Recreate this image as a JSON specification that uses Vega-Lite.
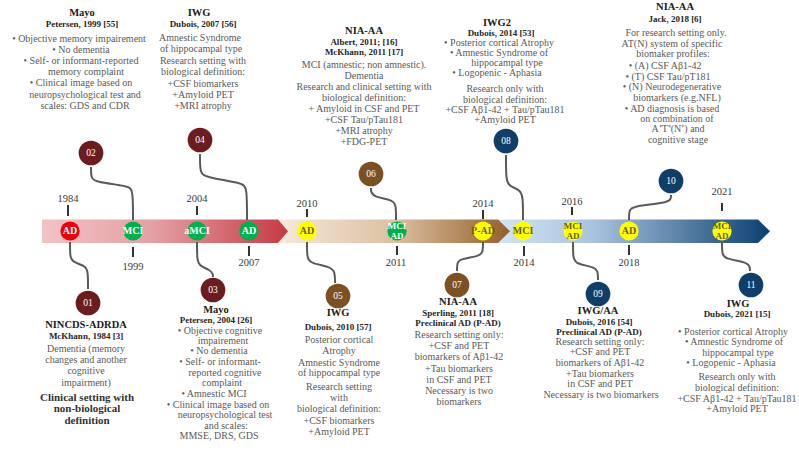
{
  "$schema": "https://vega.github.io/schema/vega-lite/v6.json",
  "width": 799,
  "height": 453,
  "padding": 0,
  "autosize": {"type": "fit", "contains": "padding"},
  "background": "white",
  "config": {"view": {"stroke": null}, "text": {"font": "Liberation Serif"}},
  "resolve": {"scale": {"color": "independent"}},
  "datasets": {
    "band": [
      {"seg": "s1", "x": 42, "y": 219.5, "y2": 243},
      {"seg": "s1", "x": 278, "y": 219.5, "y2": 243},
      {"seg": "s1", "x": 288, "y": 231.25, "y2": 231.25},
      {"seg": "s2", "x": 278, "y": 219.5, "y2": 243},
      {"seg": "s2", "x": 498, "y": 219.5, "y2": 243},
      {"seg": "s2", "x": 510, "y": 231.25, "y2": 231.25},
      {"seg": "s3", "x": 498, "y": 219.5, "y2": 243},
      {"seg": "s3", "x": 758, "y": 219.5, "y2": 243},
      {"seg": "s3", "x": 770, "y": 231.25, "y2": 231.25}
    ],
    "conn": [
      {"id": "c01", "o": 1, "x": 70, "y": 242}, {"id": "c01", "o": 2, "x": 70, "y": 256}, {"id": "c01", "o": 3, "x": 72, "y": 262}, {"id": "c01", "o": 4, "x": 86, "y": 266}, {"id": "c01", "o": 5, "x": 88, "y": 272}, {"id": "c01", "o": 6, "x": 88, "y": 289},
      {"id": "c02", "o": 1, "x": 91, "y": 167}, {"id": "c02", "o": 2, "x": 91, "y": 178}, {"id": "c02", "o": 3, "x": 95, "y": 182}, {"id": "c02", "o": 4, "x": 129, "y": 186}, {"id": "c02", "o": 5, "x": 133, "y": 190}, {"id": "c02", "o": 6, "x": 133, "y": 220},
      {"id": "c03", "o": 1, "x": 197, "y": 242}, {"id": "c03", "o": 2, "x": 197, "y": 261}, {"id": "c03", "o": 3, "x": 200, "y": 266}, {"id": "c03", "o": 4, "x": 210, "y": 270}, {"id": "c03", "o": 5, "x": 213, "y": 274}, {"id": "c03", "o": 6, "x": 213, "y": 277},
      {"id": "c04", "o": 1, "x": 200, "y": 154}, {"id": "c04", "o": 2, "x": 200, "y": 172}, {"id": "c04", "o": 3, "x": 204, "y": 177}, {"id": "c04", "o": 4, "x": 243, "y": 183}, {"id": "c04", "o": 5, "x": 247, "y": 188}, {"id": "c04", "o": 6, "x": 247, "y": 220},
      {"id": "c05", "o": 1, "x": 307, "y": 242}, {"id": "c05", "o": 2, "x": 307, "y": 258}, {"id": "c05", "o": 3, "x": 310, "y": 263}, {"id": "c05", "o": 4, "x": 331, "y": 267}, {"id": "c05", "o": 5, "x": 335, "y": 272}, {"id": "c05", "o": 6, "x": 335, "y": 283},
      {"id": "c06", "o": 1, "x": 371, "y": 188}, {"id": "c06", "o": 2, "x": 371, "y": 192}, {"id": "c06", "o": 3, "x": 374, "y": 197}, {"id": "c06", "o": 4, "x": 393, "y": 200}, {"id": "c06", "o": 5, "x": 396, "y": 205}, {"id": "c06", "o": 6, "x": 396, "y": 220},
      {"id": "c07", "o": 1, "x": 483, "y": 242}, {"id": "c07", "o": 2, "x": 483, "y": 252}, {"id": "c07", "o": 3, "x": 480, "y": 256}, {"id": "c07", "o": 4, "x": 460, "y": 259}, {"id": "c07", "o": 5, "x": 457, "y": 263}, {"id": "c07", "o": 6, "x": 457, "y": 271},
      {"id": "c08", "o": 1, "x": 506, "y": 155}, {"id": "c08", "o": 2, "x": 506, "y": 180}, {"id": "c08", "o": 3, "x": 509, "y": 186}, {"id": "c08", "o": 4, "x": 520, "y": 190}, {"id": "c08", "o": 5, "x": 523, "y": 196}, {"id": "c08", "o": 6, "x": 523, "y": 220},
      {"id": "c09", "o": 1, "x": 573, "y": 242}, {"id": "c09", "o": 2, "x": 573, "y": 258}, {"id": "c09", "o": 3, "x": 576, "y": 264}, {"id": "c09", "o": 4, "x": 595, "y": 267}, {"id": "c09", "o": 5, "x": 598, "y": 272}, {"id": "c09", "o": 6, "x": 598, "y": 280},
      {"id": "c10", "o": 1, "x": 671, "y": 195}, {"id": "c10", "o": 2, "x": 671, "y": 199}, {"id": "c10", "o": 3, "x": 667, "y": 203}, {"id": "c10", "o": 4, "x": 633, "y": 206}, {"id": "c10", "o": 5, "x": 629, "y": 210}, {"id": "c10", "o": 6, "x": 629, "y": 220},
      {"id": "c11", "o": 1, "x": 722, "y": 242}, {"id": "c11", "o": 2, "x": 722, "y": 254}, {"id": "c11", "o": 3, "x": 725, "y": 259}, {"id": "c11", "o": 4, "x": 747, "y": 262}, {"id": "c11", "o": 5, "x": 750, "y": 267}, {"id": "c11", "o": 6, "x": 750, "y": 271}
    ],
    "ticks": [
      {"x": 68, "y": 205, "y2": 216}, {"x": 197, "y": 206, "y2": 215}, {"x": 307, "y": 209, "y2": 217},
      {"x": 483, "y": 210, "y2": 219}, {"x": 572, "y": 207, "y2": 215}, {"x": 722, "y": 203, "y2": 211},
      {"x": 133, "y": 247, "y2": 257}, {"x": 249, "y": 246, "y2": 256}, {"x": 397, "y": 246, "y2": 255},
      {"x": 524, "y": 246, "y2": 256}, {"x": 629, "y": 245, "y2": 255}
    ],
    "years": [
      {"x": 68, "y": 199, "t": "1984"}, {"x": 197, "y": 199, "t": "2004"}, {"x": 307, "y": 204, "t": "2010"},
      {"x": 483, "y": 204, "t": "2014"}, {"x": 572, "y": 202, "t": "2016"}, {"x": 722, "y": 192, "t": "2021"},
      {"x": 133, "y": 267, "t": "1999"}, {"x": 249, "y": 263, "t": "2007"}, {"x": 396, "y": 263, "t": "2011"},
      {"x": 524, "y": 263, "t": "2014"}, {"x": 629, "y": 263, "t": "2018"}
    ],
    "nodes": [
      {"x": 70, "y": 231, "label": "AD", "group": "A", "lines": 1},
      {"x": 133, "y": 231, "label": "MCI", "group": "B", "lines": 1},
      {"x": 197, "y": 231, "label": "aMCI", "group": "B", "lines": 1},
      {"x": 249, "y": 231, "label": "AD", "group": "B", "lines": 1},
      {"x": 307, "y": 231, "label": "AD", "group": "C", "lines": 1},
      {"x": 397, "y": 231, "label": "MCI\nAD", "group": "B", "lines": 2},
      {"x": 483, "y": 231, "label": "P-AD", "group": "C", "lines": 1},
      {"x": 523, "y": 231, "label": "MCI", "group": "C", "lines": 1},
      {"x": 573, "y": 231, "label": "MCI\nAD", "group": "C", "lines": 2},
      {"x": 629, "y": 231, "label": "AD", "group": "C", "lines": 1},
      {"x": 722, "y": 231, "label": "MCI\nAD", "group": "C", "lines": 2}
    ],
    "nums": [
      {"x": 88, "y": 303, "n": "01", "era": "e1"},
      {"x": 91, "y": 153, "n": "02", "era": "e1"},
      {"x": 213, "y": 290, "n": "03", "era": "e1"},
      {"x": 200, "y": 140, "n": "04", "era": "e1"},
      {"x": 338, "y": 296, "n": "05", "era": "e2"},
      {"x": 371, "y": 174, "n": "06", "era": "e2"},
      {"x": 457, "y": 285, "n": "07", "era": "e2"},
      {"x": 506, "y": 141, "n": "08", "era": "e3"},
      {"x": 598, "y": 294, "n": "09", "era": "e3"},
      {"x": 671, "y": 181, "n": "10", "era": "e3"},
      {"x": 751, "y": 285, "n": "11", "era": "e3"}
    ],
    "txt": [
      {"x": 82, "y": 13, "role": "title", "t": "Mayo"},
      {"x": 82, "y": 24, "role": "sub", "t": "Petersen, 1999 [55]"},
      {"x": 79, "y": 39, "role": "body", "t": "•  Objective memory impairement"},
      {"x": 81, "y": 50, "role": "body", "t": "•  No dementia"},
      {"x": 81, "y": 61, "role": "body", "t": "•  Self- or informant-reported"},
      {"x": 86, "y": 72, "role": "body", "t": "memory complaint"},
      {"x": 81, "y": 83, "role": "body", "t": "•  Clinical image based on"},
      {"x": 85, "y": 95, "role": "body", "t": "neuropsychological test and"},
      {"x": 85, "y": 106, "role": "body", "t": "scales: GDS and CDR"},

      {"x": 199, "y": 13, "role": "title", "t": "IWG"},
      {"x": 203, "y": 24, "role": "sub", "t": "Dubois, 2007 [56]"},
      {"x": 200, "y": 38, "role": "body", "t": "Amnestic Syndrome"},
      {"x": 201, "y": 49, "role": "body", "t": "of hippocampal type"},
      {"x": 203, "y": 61, "role": "body", "t": "Research setting with"},
      {"x": 203, "y": 72, "role": "body", "t": "biological definition:"},
      {"x": 203, "y": 84, "role": "body", "t": "+CSF biomarkers"},
      {"x": 203, "y": 95, "role": "body", "t": "+Amyloid PET"},
      {"x": 203, "y": 106, "role": "body", "t": "+MRI atrophy"},

      {"x": 364, "y": 31, "role": "title", "t": "NIA-AA"},
      {"x": 364, "y": 42, "role": "sub", "t": "Albert, 2011; [16]"},
      {"x": 364, "y": 52, "role": "sub", "t": "McKhann, 2011 [17]"},
      {"x": 364, "y": 65, "role": "body", "t": "MCI (amnestic; non amnestic)."},
      {"x": 364, "y": 76, "role": "body", "t": "Dementia"},
      {"x": 364, "y": 87, "role": "body", "t": "Research and clinical setting with"},
      {"x": 364, "y": 98, "role": "body", "t": "biological definition:"},
      {"x": 364, "y": 109, "role": "body", "t": "+ Amyloid in CSF and PET"},
      {"x": 364, "y": 120, "role": "body", "t": "+CSF Tau/pTau181"},
      {"x": 364, "y": 131, "role": "body", "t": "+MRI atrophy"},
      {"x": 364, "y": 142, "role": "body", "t": "+FDG-PET"},

      {"x": 497, "y": 23, "role": "title", "t": "IWG2"},
      {"x": 501, "y": 33, "role": "sub", "t": "Dubois, 2014 [53]"},
      {"x": 499, "y": 43, "role": "body", "t": "•  Posterior cortical Atrophy"},
      {"x": 499, "y": 53, "role": "body", "t": "•  Amnestic Syndrome of"},
      {"x": 507, "y": 63, "role": "body", "t": "hippocampal type"},
      {"x": 497, "y": 73, "role": "body", "t": "•  Logopenic - Aphasia"},
      {"x": 505, "y": 89, "role": "body", "t": "Research only with"},
      {"x": 505, "y": 100, "role": "body", "t": "biological definition:"},
      {"x": 505, "y": 110, "role": "body", "t": "+CSF Aβ1-42 + Tau/pTau181"},
      {"x": 505, "y": 120, "role": "body", "t": "+Amyloid PET"},

      {"x": 675, "y": 7, "role": "title", "t": "NIA-AA"},
      {"x": 675, "y": 19, "role": "sub", "t": "Jack, 2018 [6]"},
      {"x": 676, "y": 33, "role": "body", "t": "For research setting only."},
      {"x": 672, "y": 44, "role": "body", "t": "AT(N) system of specific"},
      {"x": 673, "y": 54, "role": "body", "t": "biomaker profiles:"},
      {"x": 665, "y": 66, "role": "body", "t": "•  (A) CSF Aβ1-42"},
      {"x": 668, "y": 77, "role": "body", "t": "•  (T) CSF Tau/pT181"},
      {"x": 672, "y": 87, "role": "body", "t": "•  (N) Neurodegenerative"},
      {"x": 677, "y": 98, "role": "body", "t": "biomarkers (e.g.NFL)"},
      {"x": 672, "y": 109, "role": "body", "t": "•  AD diagnosis is based"},
      {"x": 677, "y": 119, "role": "body", "t": "on combination of"},
      {"x": 678, "y": 129, "role": "body", "t": "A⁺T⁺(N⁺) and"},
      {"x": 678, "y": 140, "role": "body", "t": "cognitive stage"},

      {"x": 86, "y": 325, "role": "title", "t": "NINCDS-ADRDA"},
      {"x": 86, "y": 336, "role": "sub", "t": "McKhann, 1984 [3]"},
      {"x": 86, "y": 349, "role": "body", "t": "Dementia (memory"},
      {"x": 86, "y": 360, "role": "body", "t": "changes and another"},
      {"x": 86, "y": 371, "role": "body", "t": "cognitive"},
      {"x": 86, "y": 383, "role": "body", "t": "impairment)"},
      {"x": 87, "y": 398, "role": "emph", "t": "Clinical setting with"},
      {"x": 87, "y": 409, "role": "emph", "t": "non-biological"},
      {"x": 87, "y": 421, "role": "emph", "t": "definition"},

      {"x": 216, "y": 310, "role": "title", "t": "Mayo"},
      {"x": 216, "y": 320, "role": "sub", "t": "Petersen, 2004 [26]"},
      {"x": 220, "y": 331, "role": "body", "t": "•  Objective cognitive"},
      {"x": 223, "y": 341, "role": "body", "t": "impairement"},
      {"x": 219, "y": 351, "role": "body", "t": "•  No dementia"},
      {"x": 220, "y": 362, "role": "body", "t": "•  Self- or informant-"},
      {"x": 225, "y": 373, "role": "body", "t": "reported cognitive"},
      {"x": 222, "y": 383, "role": "body", "t": "complaint"},
      {"x": 214, "y": 394, "role": "body", "t": "•  Amnestic MCI"},
      {"x": 218, "y": 405, "role": "body", "t": "•  Clinical image based on"},
      {"x": 225, "y": 415, "role": "body", "t": "neuropsychological test"},
      {"x": 226, "y": 426, "role": "body", "t": "and scales:"},
      {"x": 219, "y": 436, "role": "body", "t": "MMSE, DRS, GDS"},

      {"x": 338, "y": 313, "role": "title", "t": "IWG"},
      {"x": 338, "y": 327, "role": "sub", "t": "Dubois, 2010 [57]"},
      {"x": 339, "y": 340, "role": "body", "t": "Posterior cortical"},
      {"x": 339, "y": 351, "role": "body", "t": "Atrophy"},
      {"x": 339, "y": 363, "role": "body", "t": "Amnestic Syndrome"},
      {"x": 339, "y": 373, "role": "body", "t": "of hippocampal type"},
      {"x": 339, "y": 387, "role": "body", "t": "Research setting"},
      {"x": 339, "y": 398, "role": "body", "t": "with"},
      {"x": 339, "y": 409, "role": "body", "t": "biological definition:"},
      {"x": 339, "y": 421, "role": "body", "t": "+CSF biomarkers"},
      {"x": 339, "y": 432, "role": "body", "t": "+Amyloid PET"},

      {"x": 458, "y": 302, "role": "title", "t": "NIA-AA"},
      {"x": 458, "y": 313, "role": "sub", "t": "Sperling, 2011 [18]"},
      {"x": 458, "y": 323, "role": "sub", "t": "Preclinical AD (P-AD)"},
      {"x": 459, "y": 335, "role": "body", "t": "Research setting only:"},
      {"x": 459, "y": 346, "role": "body", "t": "+CSF and PET"},
      {"x": 459, "y": 357, "role": "body", "t": "biomarkers of Aβ1-42"},
      {"x": 459, "y": 369, "role": "body", "t": "+Tau biomarkers"},
      {"x": 459, "y": 380, "role": "body", "t": "in CSF and PET"},
      {"x": 459, "y": 391, "role": "body", "t": "Necessary is two"},
      {"x": 459, "y": 402, "role": "body", "t": "biomarkers"},

      {"x": 598, "y": 311, "role": "title", "t": "IWG/AA"},
      {"x": 599, "y": 322, "role": "sub", "t": "Dubois, 2016 [54]"},
      {"x": 599, "y": 332, "role": "sub", "t": "Preclinical AD (P-AD)"},
      {"x": 600, "y": 342, "role": "body", "t": "Research setting only:"},
      {"x": 600, "y": 352, "role": "body", "t": "+CSF and PET"},
      {"x": 600, "y": 363, "role": "body", "t": "biomarkers of Aβ1-42"},
      {"x": 600, "y": 374, "role": "body", "t": "+Tau biomarkers"},
      {"x": 600, "y": 384, "role": "body", "t": "in CSF and PET"},
      {"x": 601, "y": 395, "role": "body", "t": "Necessary is two biomarkers"},

      {"x": 738, "y": 304, "role": "title", "t": "IWG"},
      {"x": 737, "y": 314, "role": "sub", "t": "Dubois, 2021 [15]"},
      {"x": 733, "y": 332, "role": "body", "t": "•  Posterior cortical Atrophy"},
      {"x": 734, "y": 342, "role": "body", "t": "•  Amnestic Syndrome of"},
      {"x": 738, "y": 353, "role": "body", "t": "hippocampal type"},
      {"x": 731, "y": 363, "role": "body", "t": "•  Logopenic - Aphasia"},
      {"x": 737, "y": 377, "role": "body", "t": "Research only with"},
      {"x": 737, "y": 388, "role": "body", "t": "biological definition:"},
      {"x": 737, "y": 399, "role": "body", "t": "+CSF Aβ1-42 + Tau/pTau181"},
      {"x": 737, "y": 409, "role": "body", "t": "+Amyloid PET"}
    ]
  },
  "encoding": {
    "x": {"field": "x", "type": "quantitative", "scale": {"domain": [0, 799], "nice": false, "zero": false}, "axis": null},
    "y": {"field": "y", "type": "quantitative", "scale": {"domain": [0, 453], "nice": false, "zero": false, "reverse": true}, "axis": null}
  },
  "layer": [
    {
      "data": {"name": "band"},
      "transform": [{"filter": "datum.seg === 's3'"}],
      "mark": {"type": "area", "orient": "vertical", "color": {"gradient": "linear", "x1": 0, "y1": 0, "x2": 1, "y2": 0, "stops": [{"offset": 0, "color": "#d3e4f3"}, {"offset": 0.35, "color": "#a8c3de"}, {"offset": 1, "color": "#0c3f70"}]}},
      "encoding": {"y2": {"field": "y2"}}
    },
    {
      "data": {"name": "band"},
      "transform": [{"filter": "datum.seg === 's2'"}],
      "mark": {"type": "area", "orient": "vertical", "color": {"gradient": "linear", "x1": 0, "y1": 0, "x2": 1, "y2": 0, "stops": [{"offset": 0, "color": "#f7e9da"}, {"offset": 0.5, "color": "#dcc0a2"}, {"offset": 1, "color": "#955f2b"}]}},
      "encoding": {"y2": {"field": "y2"}}
    },
    {
      "data": {"name": "band"},
      "transform": [{"filter": "datum.seg === 's1'"}],
      "mark": {"type": "area", "orient": "vertical", "color": {"gradient": "linear", "x1": 0, "y1": 0, "x2": 1, "y2": 0, "stops": [{"offset": 0, "color": "#f1c3c5"}, {"offset": 0.45, "color": "#e4a0a4"}, {"offset": 1, "color": "#c63a44"}]}},
      "encoding": {"y2": {"field": "y2"}}
    },
    {
      "data": {"name": "conn"},
      "mark": {"type": "line", "interpolate": "basis", "color": "#5a5a5a", "strokeWidth": 2},
      "encoding": {"detail": {"field": "id"}, "order": {"field": "o", "type": "quantitative"}}
    },
    {
      "data": {"name": "ticks"},
      "mark": {"type": "rule", "color": "#333333", "strokeWidth": 2},
      "encoding": {"y2": {"field": "y2"}}
    },
    {
      "data": {"name": "years"},
      "mark": {"type": "text", "fontSize": 10.5, "color": "#3a3a3a", "baseline": "middle", "align": "center"},
      "encoding": {"text": {"field": "t"}}
    },
    {
      "data": {"name": "nodes"},
      "mark": {"type": "point", "shape": "circle", "filled": true, "opacity": 1, "size": 370},
      "encoding": {"color": {"field": "group", "type": "nominal", "scale": {"domain": ["A", "B", "C"], "range": ["#e8000b", "#00b04f", "#ffff00"]}, "legend": null}}
    },
    {
      "data": {"name": "nodes"},
      "transform": [{"filter": "datum.lines === 1"}],
      "mark": {"type": "text", "fontSize": 10, "fontWeight": "bold", "baseline": "middle", "align": "center"},
      "encoding": {"text": {"field": "label"}, "color": {"condition": {"test": "datum.group === 'C'", "value": "#6a5d1a"}, "value": "#ffffff"}}
    },
    {
      "data": {"name": "nodes"},
      "transform": [{"filter": "datum.lines === 2"}],
      "mark": {"type": "text", "fontSize": 9, "fontWeight": "bold", "baseline": "middle", "align": "center", "lineBreak": "\n", "lineHeight": 10, "dy": -5},
      "encoding": {"text": {"field": "label"}, "color": {"condition": {"test": "datum.group === 'C'", "value": "#6a5d1a"}, "value": "#ffffff"}}
    },
    {
      "data": {"name": "nums"},
      "mark": {"type": "point", "shape": "circle", "filled": true, "opacity": 1, "size": 610},
      "encoding": {"color": {"field": "era", "type": "nominal", "scale": {"domain": ["e1", "e2", "e3"], "range": ["#6b1c1f", "#7b5023", "#0f3e68"]}, "legend": null}}
    },
    {
      "data": {"name": "nums"},
      "mark": {"type": "text", "fontSize": 9.5, "color": "#ffffff", "baseline": "middle", "align": "center"},
      "encoding": {"text": {"field": "n"}}
    },
    {
      "data": {"name": "txt"},
      "transform": [{"filter": "datum.role === 'title'"}],
      "mark": {"type": "text", "fontSize": 10.5, "fontWeight": "bold", "color": "#1c1c1c", "baseline": "middle", "align": "center"},
      "encoding": {"text": {"field": "t"}}
    },
    {
      "data": {"name": "txt"},
      "transform": [{"filter": "datum.role === 'sub'"}],
      "mark": {"type": "text", "fontSize": 9, "fontWeight": "bold", "color": "#262626", "baseline": "middle", "align": "center"},
      "encoding": {"text": {"field": "t"}}
    },
    {
      "data": {"name": "txt"},
      "transform": [{"filter": "datum.role === 'body'"}],
      "mark": {"type": "text", "fontSize": 10, "color": "#5a5a5a", "baseline": "middle", "align": "center"},
      "encoding": {"text": {"field": "t"}}
    },
    {
      "data": {"name": "txt"},
      "transform": [{"filter": "datum.role === 'emph'"}],
      "mark": {"type": "text", "fontSize": 11, "fontWeight": "bold", "color": "#333333", "baseline": "middle", "align": "center"},
      "encoding": {"text": {"field": "t"}}
    }
  ]
}
